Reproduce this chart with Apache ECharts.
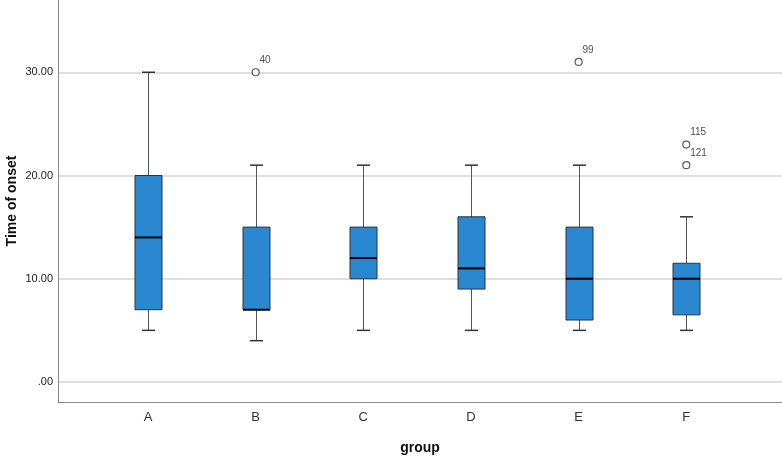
<!DOCTYPE html>
<html>
<head>
<meta charset="utf-8">
<script src="https://cdn.jsdelivr.net/npm/echarts@6/dist/echarts.min.js"></script>
<style>
html, body { margin: 0; padding: 0; background: #fff; }
#main { width: 782px; height: 456px; }
</style>
</head>
<body>
<div id="main"></div>
<script>
// data
const categories = ['A', 'B', 'C', 'D', 'E', 'F']
const lowWhisker = [5, 4, 5, 5, 5, 5]
const q1 = [7, 7, 10, 9, 6, 6.5]
const median = [14, 7, 12, 11, 10, 10]
const q3 = [20, 15, 15, 16, 15, 11.5]
const highWhisker = [30, 21, 21, 21, 21, 16]
// outliers: group index, value, case id
const outlierGroup = [1, 4, 5, 5]
const outlierValue = [30, 31, 23, 21]
const outlierId = ['40', '99', '115', '121']
const yTicks = [0, 10, 20, 30]

const boxData = categories.map((c, i) => [i, lowWhisker[i], q1[i], median[i], q3[i], highWhisker[i]])
const outlierData = outlierValue.map((v, i) => [outlierGroup[i], v, outlierId[i]])

const chart = echarts.init(document.getElementById('main'))

// box + whiskers drawn like SPSS (short caps, black median)
const renderBox = (params, api) => {
    const x = api.value(0)
    const pLow = api.coord([x, api.value(1)])
    const pQ1 = api.coord([x, api.value(2)])
    const pMed = api.coord([x, api.value(3)])
    const pQ3 = api.coord([x, api.value(4)])
    const pHigh = api.coord([x, api.value(5)])
    const half = 13.5
    const cap = 6.5
    const cx = Math.round(pMed[0]) + 0.5
    const whisker = { stroke: '#555', lineWidth: 1 }
    return {
        type: 'group',
        children: [
            { type: 'line', shape: { x1: cx, y1: pQ3[1], x2: cx, y2: pHigh[1] }, style: whisker },
            { type: 'line', shape: { x1: cx, y1: pQ1[1], x2: cx, y2: pLow[1] }, style: whisker },
            { type: 'line', shape: { x1: cx - cap, y1: pHigh[1], x2: cx + cap, y2: pHigh[1] }, style: { stroke: '#333', lineWidth: 1.5 } },
            { type: 'line', shape: { x1: cx - cap, y1: pLow[1], x2: cx + cap, y2: pLow[1] }, style: { stroke: '#333', lineWidth: 1.5 } },
            {
                type: 'rect',
                shape: { x: cx - half, y: pQ3[1], width: half * 2, height: pQ1[1] - pQ3[1] },
                style: { fill: '#2a88d0', stroke: '#2b3440', lineWidth: 1 }
            },
            { type: 'line', shape: { x1: cx - half, y1: pMed[1], x2: cx + half, y2: pMed[1] }, style: { stroke: '#000', lineWidth: 2 } }
        ]
    }
}

chart.setOption({
    animation: false,
    grid: { left: 58, right: 0, top: 0, bottom: 54, outerBoundsMode: 'none', containLabel: false },
    xAxis: {
        type: 'value',
        min: -0.836,
        max: 5.889,
        name: 'group',
        nameLocation: 'middle',
        nameGap: 39,
        nameMoveOverlap: false,
        nameTextStyle: { fontFamily: 'Liberation Sans', fontSize: 14, fontWeight: 'bold', color: '#111' },
        axisLine: { show: true, onZero: false, lineStyle: { color: '#888', width: 1 } },
        axisTick: { show: false },
        splitLine: { show: false },
        axisLabel: {
            customValues: categories.map((c, i) => i),
            formatter: v => categories[Math.round(v)] || '',
            fontFamily: 'Liberation Sans',
            fontSize: 13,
            color: '#333',
            margin: 9
        }
    },
    yAxis: {
        type: 'value',
        min: -1.94,
        max: 37,
        name: 'Time of onset',
        nameLocation: 'middle',
        nameGap: 39,
        nameMoveOverlap: false,
        nameTextStyle: { fontFamily: 'Liberation Sans', fontSize: 14, fontWeight: 'bold', color: '#111' },
        axisLine: { show: true, onZero: false, lineStyle: { color: '#888', width: 1 } },
        axisTick: { show: false, customValues: yTicks },
        splitLine: { show: true, lineStyle: { color: '#d4d4d4', width: 1.5 } },
        axisLabel: {
            customValues: yTicks,
            formatter: v => v === 0 ? '.00' : v.toFixed(2),
            fontFamily: 'Liberation Sans',
            fontSize: 11,
            color: '#222',
            margin: 5
        }
    },
    series: [
        {
            type: 'custom',
            renderItem: renderBox,
            encode: { x: 0, y: [1, 2, 3, 4, 5] },
            data: boxData,
            z: 3
        },
        {
            type: 'scatter',
            symbol: 'circle',
            symbolSize: 7,
            itemStyle: { color: '#fff', borderColor: '#333', borderWidth: 1.2 },
            label: {
                show: true,
                position: [8, -13],
                formatter: p => p.value[2],
                fontFamily: 'Liberation Sans',
                fontSize: 10,
                color: '#222'
            },
            data: outlierData,
            z: 4
        }
    ]
})
</script>
</body>
</html>
